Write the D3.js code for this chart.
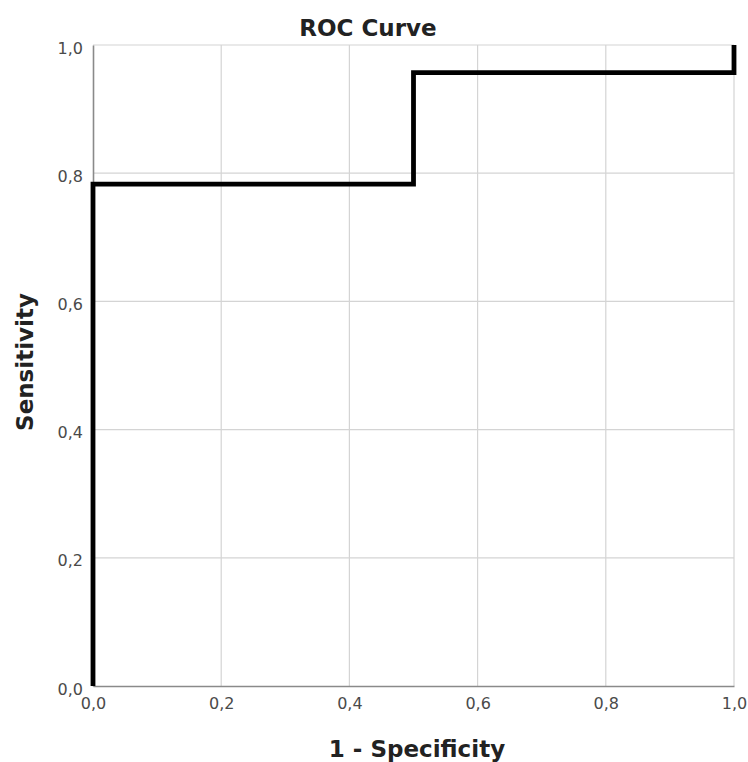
<!DOCTYPE html>
<html>
<head>
<meta charset="utf-8">
<script src="https://cdn.jsdelivr.net/npm/d3@7"></script>
<style>
  body { margin: 0; background: #fff; }
  svg { display: block; }
</style>
</head>
<body>
<svg id="chart" width="748" height="762"></svg>
<script>
// ROC step curve: 1 - specificity vs sensitivity
const fpr = [0, 0, 0.5, 0.5, 1, 1];
const tpr = [0, 0.783, 0.783, 0.957, 0.957, 1];
const tickValues = [0, 0.2, 0.4, 0.6, 0.8, 1.0];

const svg = d3.select('#chart');
const margin = { left: 93, top: 45, right: 14, bottom: 76 };
const width = 748 - margin.left - margin.right;
const height = 762 - margin.top - margin.bottom;

const x = d3.scaleLinear().domain([0, 1]).range([margin.left, margin.left + width]);
const y = d3.scaleLinear().domain([0, 1]).range([margin.top + height, margin.top]);
const fmt = d => d3.format('.1f')(d).replace('.', ',');

const font = '"DejaVu Sans", sans-serif';

// grid
const grid = svg.append('g');
grid.selectAll('line.vx')
  .data(tickValues.slice(1))
  .join('line')
  .attr('x1', d => x(d)).attr('x2', d => x(d))
  .attr('y1', y(0)).attr('y2', y(1))
  .attr('stroke', '#d4d4d4').attr('stroke-width', 1.2);
grid.selectAll('line.hy')
  .data(tickValues.slice(1))
  .join('line')
  .attr('x1', x(0)).attr('x2', x(1))
  .attr('y1', d => y(d)).attr('y2', d => y(d))
  .attr('stroke', '#d4d4d4').attr('stroke-width', 1.2);

// axes
const xAxis = svg.append('g')
  .attr('transform', 'translate(0,' + y(0) + ')')
  .call(d3.axisBottom(x).tickValues(tickValues).tickFormat(fmt).tickSize(0).tickPadding(12));
const yAxis = svg.append('g')
  .attr('transform', 'translate(' + x(0) + ',0)')
  .call(d3.axisLeft(y).tickValues(tickValues).tickFormat(fmt).tickSize(0).tickPadding(10));

[xAxis, yAxis].forEach(a => {
  a.attr('font-size', null);
  a.select('.domain').attr('stroke', '#8a8a8a').attr('stroke-width', 1.6);
  a.selectAll('text')
    .attr('fill', '#4a4a4a')
    .style('font-family', font)
    .style('font-size', '16px');
});
yAxis.selectAll('text').attr('dy', '0.5em');

// curve
const line = d3.line()
  .x(d => x(d[0]))
  .y(d => y(d[1]));
svg.append('path')
  .datum(d3.zip(fpr, tpr))
  .attr('d', line)
  .attr('fill', 'none')
  .attr('stroke', '#000')
  .attr('stroke-width', 4.8)
  .attr('stroke-linejoin', 'miter')
  .attr('stroke-linecap', 'butt');

// titles
svg.append('text')
  .attr('x', 368).attr('y', 36)
  .attr('text-anchor', 'middle')
  .style('font-family', font).style('font-size', '23px').style('font-weight', 'bold')
  .attr('fill', '#222')
  .text('ROC Curve');

svg.append('text')
  .attr('x', 417).attr('y', 757)
  .attr('text-anchor', 'middle')
  .style('font-family', font).style('font-size', '23px').style('font-weight', 'bold')
  .attr('fill', '#222')
  .text('1 - Specificity');

svg.append('text')
  .attr('transform', 'translate(33,' + 362 + ') rotate(-90)')
  .attr('text-anchor', 'middle')
  .style('font-family', font).style('font-size', '23px').style('font-weight', 'bold')
  .attr('fill', '#222')
  .text('Sensitivity');
</script>
</body>
</html>
